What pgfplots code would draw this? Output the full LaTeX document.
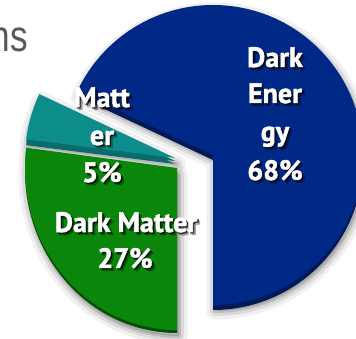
\documentclass[border=0pt]{standalone}
\usepackage{graphicx}
\usepackage{pgfplots}
\pgfplotsset{compat=1.18}
\usepackage{pgfplotstable}
\usepackage{fontspec}
\setmainfont{PT Sans}
\newfontfamily\lblff{PT Sans}[BoldFeatures={FakeBold=1.6}]
\newfontfamily\nsfont{Liberation Sans}

\definecolor{deFace}{RGB}{0,41,135}
\definecolor{deSide}{RGB}{0,26,88}
\definecolor{mFace}{RGB}{13,140,140}
\definecolor{mSide}{RGB}{8,108,108}
\definecolor{dmFace}{RGB}{10,135,10}
\definecolor{dmSide}{RGB}{5,78,5}
\definecolor{nsgray}{RGB}{88,88,88}

\pgfplotstableread{
label value
DarkEnergy 68
DarkMatter 27
Matter 5
}\piedata

% #1 options, #2 cx, #3 cy, #4 start angle, #5 end angle, #6 x radius, #7 y radius
\newcommand\sector[7]{\path[#1] (axis cs:#2,#3) -- ++(#4:#6pt and #7pt) arc[start angle=#4, end angle=#5, x radius=#6pt, y radius=#7pt] -- cycle;}

\newcommand\shadowsec[6]{%
 \sector{fill=black, fill opacity=0.12, draw=black, draw opacity=0.06, line width=17pt, line join=round, shift={(2pt,-6pt)}}{#1}{#2}{#3}{#4}{#5}{#6}
 \sector{draw=black, draw opacity=0.09, line width=10pt, line join=round, shift={(2pt,-6pt)}}{#1}{#2}{#3}{#4}{#5}{#6}
 \sector{draw=black, draw opacity=0.13, line width=4pt, line join=round, shift={(2pt,-6pt)}}{#1}{#2}{#3}{#4}{#5}{#6}}

\newcommand\lblfont{\lblff\bfseries\fontsize{28}{34}\selectfont}
\newcommand\lbl[3]{%
 \node[anchor=base, inner sep=0pt, text=black, text opacity=0.30, xshift=3pt, yshift=-3pt, font=\lblfont] at (axis cs:#1,#2) {#3};
 \node[anchor=base, inner sep=0pt, text=black, text opacity=0.60, xshift=1.5pt, yshift=-1.5pt, font=\lblfont] at (axis cs:#1,#2) {#3};
 \node[anchor=base, inner sep=0pt, text=white, font=\lblfont] at (axis cs:#1,#2) {#3};}

\begin{document}
\begin{tikzpicture}
\pgfplotstablegetelem{0}{value}\of\piedata\edef\vA{\pgfplotsretval}
\pgfplotstablegetelem{1}{value}\of\piedata\edef\vB{\pgfplotsretval}
\pgfplotstablegetelem{2}{value}\of\piedata\edef\vC{\pgfplotsretval}
\pgfmathsetmacro\aS{-90}
\pgfmathsetmacro\aDE{-90+3.6*\vA}
\pgfmathsetmacro\aM{\aDE+3.6*\vC}
\pgfmathsetmacro\aDM{\aM+3.6*\vB}
\useasboundingbox (0,0) rectangle (356pt,339pt);
\begin{axis}[at={(0pt,0pt)}, anchor=south west, scale only axis,
  width=356pt, height=339pt, xmin=0, xmax=356, ymin=0, ymax=339,
  hide axis, clip=true]
% shadows
\shadowsec{213}{184}{\aS}{\aDE}{150}{150}
\shadowsec{175}{181}{\aDE}{\aM}{150}{150}
\shadowsec{177}{171}{\aM}{\aDM}{152}{162}
% side walls
\sector{fill=deSide, shift={(0pt,-5pt)}}{213}{184}{\aS}{\aDE}{150}{150}
\sector{fill=deSide, shift={(0pt,-2.5pt)}}{213}{184}{\aS}{\aDE}{150}{150}
\sector{fill=mSide, shift={(0pt,-6pt)}}{175}{181}{\aDE}{\aM}{150}{150}
\sector{fill=mSide, shift={(0pt,-3pt)}}{175}{181}{\aDE}{\aM}{150}{150}
\sector{fill=dmSide, shift={(0pt,-3pt)}}{177}{171}{\aM}{\aDM}{152}{162}
% faces
\sector{fill=deFace}{213}{184}{\aS}{\aDE}{150}{150}
\sector{fill=mFace}{175}{181}{\aDE}{\aM}{150}{150}
\sector{fill=dmFace}{177}{171}{\aM}{\aDM}{152}{162}
% labels
\lbl{275}{272}{Dark}
\lbl{275}{236}{Ener}
\lbl{275}{198}{gy}
\lbl{275}{159}{\vA\%}
\lbl{102}{232}{Matt}
\lbl{102}{194}{er}
\lbl{102}{157}{\vC\%}
\lbl{126}{107}{Dark Matter}
\lbl{125}{71}{\vB\%}
\node[anchor=base east, inner sep=0pt, text=nsgray, font=\nsfont\fontsize{44}{50}\selectfont] at (axis cs:28,287) {\scalebox{0.8}[1]{ns}};
\end{axis}
\end{tikzpicture}
\end{document}
